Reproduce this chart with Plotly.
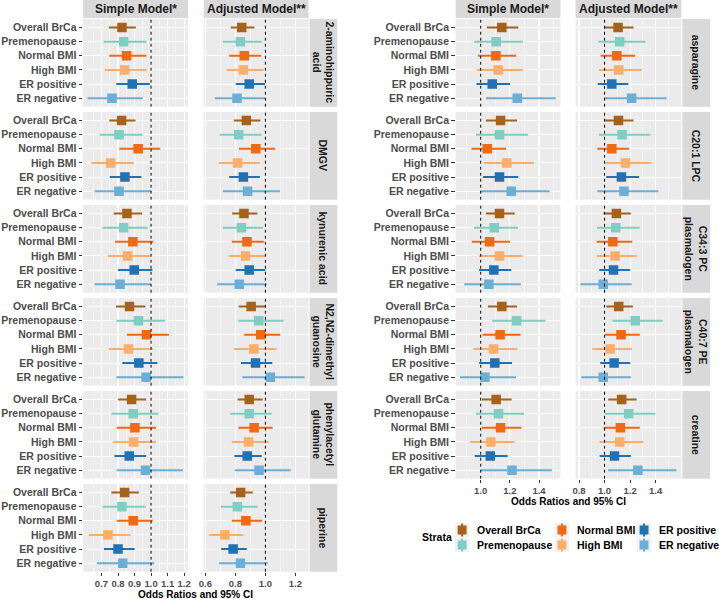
import plotly.graph_objects as go

W, H = 719, 599
FONT = "Liberation Sans, Arial, sans-serif"

strata = ["Overall BrCa", "Premenopause", "Normal BMI", "High BMI", "ER positive", "ER negative"]
strata_colors = ["#A6611A", "#80CDC1", "#F16913", "#FDAE6B", "#2171B5", "#6BAED6"]
models = ["Simple Model*", "Adjusted Model**"]

left_metabolites = ["2-aminohippuric<br>acid", "DMGV", "kynurenic acid",
                    "N2,N2-dimethyl<br>guanosine", "phenylacetyl<br>glutamine", "piperine"]
right_metabolites = ["asparagine", "C20:1 LPC", "C34:3 PC<br>plasmalogen",
                     "C40:7 PE<br>plasmalogen", "creatine"]

# ---- Odds ratios (estimate, lower CI, upper CI), order follows `strata` ----
aminohippuric_simple_or = [0.824, 0.834, 0.852, 0.840, 0.886, 0.764]
aminohippuric_simple_lo = [0.745, 0.713, 0.747, 0.721, 0.790, 0.615]
aminohippuric_simple_hi = [0.908, 0.972, 0.972, 0.974, 0.992, 0.950]
aminohippuric_adj_or = [0.842, 0.833, 0.859, 0.853, 0.892, 0.811]
aminohippuric_adj_lo = [0.769, 0.716, 0.758, 0.741, 0.802, 0.662]
aminohippuric_adj_hi = [0.927, 0.974, 0.971, 0.989, 0.998, 0.998]

dmgv_simple_or = [0.822, 0.806, 0.922, 0.756, 0.842, 0.806]
dmgv_simple_lo = [0.747, 0.689, 0.808, 0.639, 0.750, 0.659]
dmgv_simple_hi = [0.906, 0.948, 1.056, 0.896, 0.942, 1.000]
dmgv_adj_or = [0.873, 0.822, 0.936, 0.815, 0.853, 0.881]
dmgv_adj_lo = [0.789, 0.695, 0.824, 0.688, 0.758, 0.716]
dmgv_adj_hi = [0.967, 0.974, 1.064, 0.963, 0.963, 1.097]

kynurenic_simple_or = [0.854, 0.834, 0.890, 0.858, 0.898, 0.812]
kynurenic_simple_lo = [0.774, 0.707, 0.782, 0.737, 0.800, 0.657]
kynurenic_simple_hi = [0.946, 0.980, 1.014, 0.996, 1.008, 1.000]
kynurenic_adj_or = [0.857, 0.840, 0.877, 0.868, 0.892, 0.826]
kynurenic_adj_lo = [0.778, 0.716, 0.776, 0.754, 0.802, 0.679]
kynurenic_adj_hi = [0.947, 0.985, 0.989, 0.998, 1.000, 1.009]

dimethylguanosine_simple_or = [0.870, 0.924, 0.972, 0.864, 0.926, 0.970]
dimethylguanosine_simple_lo = [0.788, 0.790, 0.854, 0.743, 0.826, 0.790]
dimethylguanosine_simple_hi = [0.966, 1.084, 1.108, 1.012, 1.038, 1.196]
dimethylguanosine_adj_or = [0.905, 0.956, 0.969, 0.923, 0.934, 1.033]
dimethylguanosine_adj_lo = [0.822, 0.820, 0.859, 0.791, 0.837, 0.846]
dimethylguanosine_adj_hi = [1.000, 1.121, 1.099, 1.075, 1.046, 1.262]

phenylacetyl_simple_or = [0.882, 0.892, 0.902, 0.894, 0.868, 0.966]
phenylacetyl_simple_lo = [0.800, 0.760, 0.792, 0.772, 0.778, 0.792]
phenylacetyl_simple_hi = [0.970, 1.044, 1.030, 1.030, 0.970, 1.192]
phenylacetyl_adj_or = [0.892, 0.892, 0.925, 0.888, 0.879, 0.958]
phenylacetyl_adj_lo = [0.815, 0.765, 0.820, 0.776, 0.793, 0.796]
phenylacetyl_adj_hi = [0.982, 1.042, 1.048, 1.022, 0.976, 1.169]

piperine_simple_or = [0.840, 0.824, 0.892, 0.739, 0.800, 0.828]
piperine_simple_lo = [0.760, 0.707, 0.792, 0.623, 0.715, 0.673]
piperine_simple_hi = [0.926, 0.968, 1.010, 0.876, 0.900, 1.020]
piperine_adj_or = [0.835, 0.813, 0.870, 0.730, 0.785, 0.833]
piperine_adj_lo = [0.765, 0.703, 0.776, 0.626, 0.705, 0.692]
piperine_adj_hi = [0.916, 0.949, 0.978, 0.853, 0.875, 1.015]

asparagine_simple_or = [1.145, 1.106, 1.104, 1.120, 1.079, 1.251]
asparagine_simple_lo = [1.043, 0.955, 0.982, 0.973, 0.971, 1.036]
asparagine_simple_hi = [1.258, 1.289, 1.244, 1.289, 1.201, 1.515]
asparagine_adj_or = [1.106, 1.119, 1.096, 1.111, 1.057, 1.212]
asparagine_adj_lo = [1.000, 0.951, 0.969, 0.956, 0.946, 1.000]
asparagine_adj_hi = [1.227, 1.320, 1.240, 1.292, 1.186, 1.486]

lpc_simple_or = [1.136, 1.129, 1.045, 1.179, 1.129, 1.210]
lpc_simple_lo = [1.036, 0.968, 0.937, 1.020, 1.016, 1.000]
lpc_simple_hi = [1.249, 1.325, 1.174, 1.366, 1.258, 1.472]
lpc_adj_or = [1.109, 1.137, 1.057, 1.165, 1.132, 1.152]
lpc_adj_lo = [1.005, 0.956, 0.943, 1.005, 1.013, 0.943]
lpc_adj_hi = [1.227, 1.357, 1.191, 1.367, 1.271, 1.421]

pc_simple_or = [1.129, 1.093, 1.061, 1.129, 1.090, 1.056]
pc_simple_lo = [1.036, 0.955, 0.939, 0.989, 0.989, 0.887]
pc_simple_hi = [1.233, 1.255, 1.201, 1.287, 1.210, 1.276]
pc_adj_or = [1.093, 1.088, 1.065, 1.083, 1.070, 0.990]
pc_adj_lo = [0.992, 0.941, 0.938, 0.941, 0.959, 0.811]
pc_adj_hi = [1.207, 1.274, 1.217, 1.251, 1.199, 1.212]

pe_simple_or = [1.145, 1.246, 1.133, 1.088, 1.097, 1.029]
pe_simple_lo = [1.050, 1.079, 1.014, 0.950, 0.989, 0.858]
pe_simple_hi = [1.249, 1.445, 1.273, 1.253, 1.215, 1.242]
pe_adj_or = [1.111, 1.240, 1.129, 1.044, 1.075, 0.990]
pe_adj_lo = [1.013, 1.062, 1.005, 0.904, 0.966, 0.819]
pe_adj_hi = [1.222, 1.455, 1.276, 1.214, 1.202, 1.207]

creatine_simple_or = [1.106, 1.122, 1.136, 1.070, 1.066, 1.215]
creatine_simple_lo = [1.009, 0.968, 1.007, 0.928, 0.959, 1.000]
creatine_simple_hi = [1.212, 1.298, 1.280, 1.233, 1.185, 1.488]
creatine_adj_or = [1.134, 1.189, 1.124, 1.119, 1.078, 1.261]
creatine_adj_lo = [1.028, 1.005, 0.992, 0.961, 0.961, 1.028]
creatine_adj_hi = [1.251, 1.398, 1.276, 1.305, 1.207, 1.563]

# axis ticks
left_simple_ticks = [0.7, 0.8, 0.9, 1.0, 1.1, 1.2]
left_adj_ticks = [0.6, 0.8, 1.0, 1.2]
right_simple_ticks = [1.0, 1.2, 1.4]
right_adj_ticks = [0.8, 1.0, 1.2, 1.4]

left_data = [
    [(aminohippuric_simple_or, aminohippuric_simple_lo, aminohippuric_simple_hi),
     (aminohippuric_adj_or, aminohippuric_adj_lo, aminohippuric_adj_hi)],
    [(dmgv_simple_or, dmgv_simple_lo, dmgv_simple_hi), (dmgv_adj_or, dmgv_adj_lo, dmgv_adj_hi)],
    [(kynurenic_simple_or, kynurenic_simple_lo, kynurenic_simple_hi),
     (kynurenic_adj_or, kynurenic_adj_lo, kynurenic_adj_hi)],
    [(dimethylguanosine_simple_or, dimethylguanosine_simple_lo, dimethylguanosine_simple_hi),
     (dimethylguanosine_adj_or, dimethylguanosine_adj_lo, dimethylguanosine_adj_hi)],
    [(phenylacetyl_simple_or, phenylacetyl_simple_lo, phenylacetyl_simple_hi),
     (phenylacetyl_adj_or, phenylacetyl_adj_lo, phenylacetyl_adj_hi)],
    [(piperine_simple_or, piperine_simple_lo, piperine_simple_hi),
     (piperine_adj_or, piperine_adj_lo, piperine_adj_hi)],
]
right_data = [
    [(asparagine_simple_or, asparagine_simple_lo, asparagine_simple_hi),
     (asparagine_adj_or, asparagine_adj_lo, asparagine_adj_hi)],
    [(lpc_simple_or, lpc_simple_lo, lpc_simple_hi), (lpc_adj_or, lpc_adj_lo, lpc_adj_hi)],
    [(pc_simple_or, pc_simple_lo, pc_simple_hi), (pc_adj_or, pc_adj_lo, pc_adj_hi)],
    [(pe_simple_or, pe_simple_lo, pe_simple_hi), (pe_adj_or, pe_adj_lo, pe_adj_hi)],
    [(creatine_simple_or, creatine_simple_lo, creatine_simple_hi),
     (creatine_adj_or, creatine_adj_lo, creatine_adj_hi)],
]

# ---- layout geometry (pixels) ----
def px(x):
    return x / W

def py(y):
    return 1 - y / H

PANEL_TOP0, PANEL_STEP, PANEL_H = 19, 93, 87.7
STRIP_TOP = (0, 18)
groups = [
    dict(metab=left_metabolites, data=left_data, cols=[(79, 185), (201, 307)], strip=(308, 336),
         ranges=[[0.589, 1.223], [0.589, 1.288]], ticks=[left_simple_ticks, left_adj_ticks],
         minor=[[0.65, 0.75, 0.85, 0.95, 1.05, 1.15], [0.7, 0.9, 1.1]],
         title=(193, 594.5), k0=1),
    dict(metab=right_metabolites, data=right_data, cols=[(455.7, 561.7), (577, 684)], strip=(685, 713),
         ranges=[[0.828, 1.547], [0.773, 1.602]], ticks=[right_simple_ticks, right_adj_ticks],
         minor=[[0.9, 1.1, 1.3, 1.5], [0.9, 1.1, 1.3, 1.5]],
         title=(569.5, 501.5), k0=13),
]

fig = go.Figure()
layout = {}
shapes = []
annotations = []
tickfont = dict(family=FONT, size=9.5, color="#4D4D4D", weight="bold")
ytickfont = dict(family=FONT, size=10.5, color="#4D4D4D", weight="bold")

for g in groups:
    nrow = len(g["metab"])
    for r in range(nrow):
        top = PANEL_TOP0 + PANEL_STEP * r
        bot = top + PANEL_H
        for c in range(2):
            k = g["k0"] + r * 2 + c
            xa = "x" if k == 1 else f"x{k}"
            ya = "y" if k == 1 else f"y{k}"
            xkey = "xaxis" if k == 1 else f"xaxis{k}"
            ykey = "yaxis" if k == 1 else f"yaxis{k}"
            x0, x1 = g["cols"][c]
            bottom_row = (r == nrow - 1)
            layout[xkey] = dict(
                domain=[px(x0), px(x1)], anchor=ya, range=g["ranges"][c],
                tickmode="array", tickvals=g["ticks"][c],
                ticktext=[f"{v:.1f}" for v in g["ticks"][c]],
                showticklabels=bottom_row, ticks="outside" if bottom_row else "",
                ticklen=3, tickwidth=1, tickcolor="#333333", tickfont=tickfont,
                showgrid=True, gridcolor="white", gridwidth=1.1, zeroline=False, showline=False,
                minor=dict(tickmode="array", tickvals=g["minor"][c], showgrid=True,
                           gridcolor="white", gridwidth=0.5, ticks=""),
            )
            layout[ykey] = dict(
                domain=[py(bot), py(top)], anchor=xa, type="category",
                categoryorder="array", categoryarray=strata, range=[5.6, -0.6],
                showticklabels=(c == 0), ticks="outside" if c == 0 else "",
                ticklen=3.5, tickwidth=1, tickcolor="#333333", tickfont=ytickfont,
                showgrid=True, gridcolor="white", gridwidth=1.1, zeroline=False, showline=False,
            )
            ors, los, his = g["data"][r][c]
            for i, s in enumerate(strata):
                fig.add_trace(go.Scatter(
                    x=[ors[i]], y=[s], xaxis=xa, yaxis=ya, mode="markers",
                    marker=dict(symbol="square", size=9.5, color=strata_colors[i], line=dict(width=0)),
                    error_x=dict(type="data", symmetric=False, array=[his[i] - ors[i]],
                                 arrayminus=[ors[i] - los[i]], color=strata_colors[i],
                                 thickness=2, width=0),
                    showlegend=False, hoverinfo="skip",
                ))
            # null reference line at OR = 1
            shapes.append(dict(type="line", xref=xa, yref=f"{ya} domain", x0=1, x1=1, y0=0, y1=1,
                               line=dict(color="black", width=1, dash="3px,3px"), layer="above"))
        # row strip
        sx0, sx1 = g["strip"]
        shapes.append(dict(type="rect", xref="paper", yref="paper", x0=px(sx0), x1=px(sx1),
                           y0=py(bot), y1=py(top), fillcolor="#D9D9D9", line=dict(width=0),
                           layer="below"))
        annotations.append(dict(xref="paper", yref="paper", x=px((sx0 + sx1) / 2), y=py((top + bot) / 2),
                                text=g["metab"][r], textangle=90, showarrow=False,
                                font=dict(family=FONT, size=10.5, color="#1A1A1A", weight="bold"),
                                xanchor="center", yanchor="middle"))
    # top strips
    for c in range(2):
        x0, x1 = g["cols"][c]
        shapes.append(dict(type="rect", xref="paper", yref="paper", x0=px(x0), x1=px(x1),
                           y0=py(STRIP_TOP[1]), y1=py(STRIP_TOP[0]), fillcolor="#D9D9D9",
                           line=dict(width=0), layer="below"))
        annotations.append(dict(xref="paper", yref="paper", x=px((x0 + x1) / 2),
                                y=py((STRIP_TOP[0] + STRIP_TOP[1]) / 2), text=models[c], showarrow=False,
                                font=dict(family=FONT, size=12, color="#1A1A1A", weight="bold"),
                                xanchor="center", yanchor="middle"))
    tx, ty = g["title"]
    annotations.append(dict(xref="paper", yref="paper", x=px(tx), y=py(ty), text="Odds Ratios and 95% CI",
                            showarrow=False, font=dict(family=FONT, size=10, color="black", weight="bold"),
                            xanchor="center", yanchor="middle"))

# ---- legend (drawn manually, ggplot style) ----
annotations.append(dict(xref="paper", yref="paper", x=px(420), y=py(537), text="Strata", showarrow=False,
                        font=dict(family=FONT, size=10.5, color="black", weight="bold"),
                        xanchor="left", yanchor="middle"))
key_cols = [(455, 475), (556, 576.5), (639, 659.5)]
key_rows = [(523, 537), (538, 552)]
for i, s in enumerate(strata):
    kc, kr = i // 2, i % 2
    kx0, tx0 = key_cols[kc]
    ky0, ky1 = key_rows[kr]
    kx1 = kx0 + 14.5
    cx, cy = (kx0 + kx1) / 2, (ky0 + ky1) / 2
    shapes.append(dict(type="rect", xref="paper", yref="paper", x0=px(kx0), x1=px(kx1),
                       y0=py(ky1), y1=py(ky0), fillcolor="#F2F2F2", line=dict(width=0)))
    shapes.append(dict(type="line", xref="paper", yref="paper", x0=px(cx), x1=px(cx),
                       y0=py(ky1 - 0.5), y1=py(ky0 + 0.5), line=dict(color=strata_colors[i], width=2)))
    shapes.append(dict(type="rect", xref="paper", yref="paper", x0=px(cx - 4.5), x1=px(cx + 4.5),
                       y0=py(cy + 4.5), y1=py(cy - 4.5), fillcolor=strata_colors[i], line=dict(width=0)))
    annotations.append(dict(xref="paper", yref="paper", x=px(tx0), y=py(cy), text=s, showarrow=False,
                            font=dict(family=FONT, size=10.5, color="black", weight="bold"),
                            xanchor="left", yanchor="middle"))

fig.update_layout(
    width=W, height=H, autosize=False,
    margin=dict(l=0, r=0, t=0, b=0, pad=0),
    paper_bgcolor="white", plot_bgcolor="#EBEBEB",
    font=dict(family=FONT, color="#4D4D4D"),
    showlegend=False,
    shapes=shapes, annotations=annotations,
    **layout,
)

fig.write_html(
    "out.html",
    config={"displayModeBar": False, "staticPlot": True},
    post_script="document.body.style.margin='0';document.body.style.padding='0';"
                "document.body.style.overflow='hidden';",
)
